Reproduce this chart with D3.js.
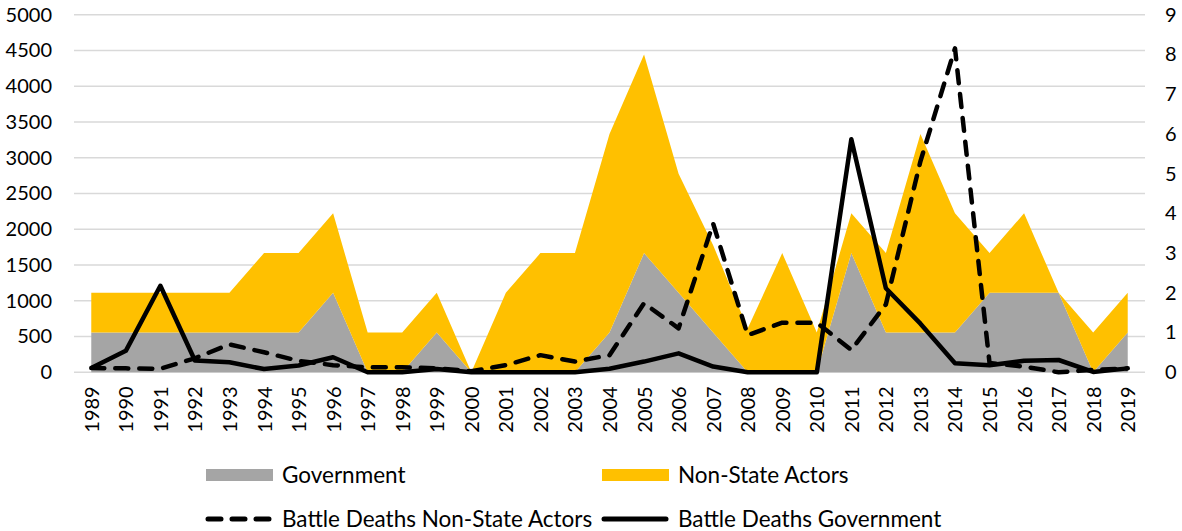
<!DOCTYPE html>
<html>
<head>
<meta charset="utf-8">
<script src="https://cdn.jsdelivr.net/npm/d3@7"></script>
<style>
  body { margin: 0; background: #fff; }
  svg text { font-family: Lato, "Open Sans", sans-serif; fill: #000; }
</style>
</head>
<body>
<svg id="chart"></svg>
<script>
const years = d3.range(1989, 2020).map(String);

// number of conflicts (right axis)
const govCount = [1,1,1,1,1,1,1,2,0,0,1, 0,0,0,0,1,3,2,1,0,0, 0,3,1,1,1,2,2,2,0,1];
const nsCount  = [1,1,1,1,1,2,2,2,1,1,1, 0,2,3,3,5,5,3,2.2,1.1,3, 1,1,2,5,3,1,2,0,1,1];

// battle deaths (left axis)
const govDeaths = [60,300,1210,165,140,45,95,210,0,0,45, 0,0,0,0,50,150,265,80,0,0, 0,3260,1175,680,126,100,160,172,5,55];
const nsDeaths  = [60,55,50,196,390,280,160,100,70,70,55, 15,100,240,150,240,965,615,2080,520,694, 694,312,950,2950,4530,130,80,0,35,55];

const leftTicks = d3.range(0, 5001, 500);
const rightTicks = d3.range(0, 10);

const width = 1182, height = 531;
const margin = { top: 14.7, right: 37, bottom: 158.7, left: 74 };

const svg = d3.select("#chart")
  .attr("width", width)
  .attr("height", height);

const x = d3.scalePoint()
  .domain(years)
  .range([margin.left, width - margin.right])
  .padding(0.5);

const yL = d3.scaleLinear().domain([0, 5000]).range([height - margin.bottom, margin.top]);
const yR = d3.scaleLinear().domain([0, 9]).range([height - margin.bottom, margin.top]);

// stacked areas
const table = years.map((y, i) => ({ year: y, gov: govCount[i], ns: nsCount[i] }));
const stack = d3.stack().keys(["gov", "ns"])(table);
const colors = { gov: "#A5A5A5", ns: "#FFC000" };

const area = d3.area()
  .x(d => x(d.data.year))
  .y0(d => yR(d[0]))
  .y1(d => yR(d[1]));

// gridlines
svg.append("g")
  .selectAll("line")
  .data(leftTicks)
  .join("line")
  .attr("x1", margin.left)
  .attr("x2", width - margin.right)
  .attr("y1", d => yL(d))
  .attr("y2", d => yL(d))
  .attr("stroke", "#D9D9D9")
  .attr("stroke-width", 1.5);

svg.append("g")
  .selectAll("path")
  .data(stack)
  .join("path")
  .attr("fill", d => colors[d.key])
  .attr("d", area);

// lines
const line = d3.line()
  .x((d, i) => x(years[i]))
  .y(d => yL(d));

svg.append("path")
  .datum(nsDeaths)
  .attr("fill", "none")
  .attr("stroke", "#000")
  .attr("stroke-width", 4.5)
  .attr("stroke-dasharray", "13,11")
  .attr("stroke-linecap", "round")
  .attr("stroke-linejoin", "round")
  .attr("d", line);

svg.append("path")
  .datum(govDeaths)
  .attr("fill", "none")
  .attr("stroke", "#000")
  .attr("stroke-width", 4.5)
  .attr("stroke-linejoin", "round")
  .attr("d", line);

// axes
const axL = svg.append("g")
  .attr("transform", "translate(" + margin.left + ",0)")
  .call(d3.axisLeft(yL).tickValues(leftTicks).tickFormat(d3.format("d")).tickSize(0).tickPadding(22));
axL.select(".domain").remove();
axL.selectAll("text").style("font-size", "20px");

const axR = svg.append("g")
  .attr("transform", "translate(" + (width - margin.right) + ",0)")
  .call(d3.axisRight(yR).tickValues(rightTicks).tickSize(0).tickPadding(20));
axR.select(".domain").remove();
axR.selectAll("text").style("font-size", "20px");

const axB = svg.append("g")
  .attr("transform", "translate(0," + (height - margin.bottom) + ")")
  .call(d3.axisBottom(x).tickSize(0));
axB.select(".domain").remove();
axB.selectAll("text")
  .style("font-size", "20px")
  .attr("transform", "rotate(-90)")
  .attr("x", -14)
  .attr("y", 0)
  .attr("dy", ".35em")
  .style("text-anchor", "end");

// legend
const legendAreas = [
  { name: "Government", color: colors.gov, x: 206, y: 475 },
  { name: "Non-State Actors", color: colors.ns, x: 602, y: 475 }
];
const legendLines = [
  { name: "Battle Deaths Non-State Actors", dash: "13,11", x: 206, y: 519 },
  { name: "Battle Deaths Government", dash: null, x: 602, y: 519 }
];

const lg = svg.append("g");
legendAreas.forEach(d => {
  lg.append("rect")
    .attr("x", d.x).attr("y", d.y - 6)
    .attr("width", 67).attr("height", 12)
    .attr("fill", d.color);
  lg.append("text")
    .attr("x", d.x + 76).attr("y", d.y)
    .attr("dy", ".35em")
    .style("font-size", "22.5px")
    .text(d.name);
});
legendLines.forEach(d => {
  const l = lg.append("line")
    .attr("x1", d.x + 2).attr("x2", d.x + 64)
    .attr("y1", d.y).attr("y2", d.y)
    .attr("stroke", "#000")
    .attr("stroke-width", 5)
    .attr("stroke-linecap", "round");
  if (d.dash) l.attr("stroke-dasharray", d.dash);
  lg.append("text")
    .attr("x", d.x + 76).attr("y", d.y)
    .attr("dy", ".35em")
    .style("font-size", "22.5px")
    .text(d.name);
});
</script>
</body>
</html>
